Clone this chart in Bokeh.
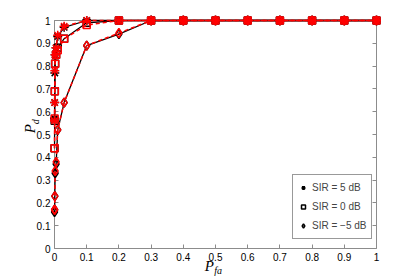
import math
from bokeh.plotting import figure
from bokeh.models import (Range1d, FixedTicker, LinearAxis, Legend, LegendItem)
from bokeh.core.properties import value
from bokeh.embed import file_html
from bokeh.resources import INLINE

# ---- data ----
pfa = [0.0001, 0.0005, 0.001, 0.002, 0.005, 0.01, 0.03, 0.1, 0.2, 0.3, 0.4, 0.5, 0.6, 0.7, 0.8, 0.9, 1.0]

pd_5_theory = [0.57, 0.64, 0.77, 0.85, 0.88, 0.93, 0.97, 1.0, 1.0, 1.0, 1.0, 1.0, 1.0, 1.0, 1.0, 1.0, 1.0]
pd_5_sim    = [0.56, 0.64, 0.78, 0.85, 0.88, 0.935, 0.975, 1.0, 1.0, 1.0, 1.0, 1.0, 1.0, 1.0, 1.0, 1.0, 1.0]

pd_0_theory = [0.44, 0.56, 0.69, 0.81, 0.85, 0.88, 0.92, 0.99, 1.0, 1.0, 1.0, 1.0, 1.0, 1.0, 1.0, 1.0, 1.0]
pd_0_sim    = [0.44, 0.57, 0.69, 0.81, 0.85, 0.87, 0.92, 0.98, 1.0, 1.0, 1.0, 1.0, 1.0, 1.0, 1.0, 1.0, 1.0]

pd_m5_theory = [0.16, 0.17, 0.23, 0.33, 0.37, 0.52, 0.64, 0.89, 0.94, 1.0, 1.0, 1.0, 1.0, 1.0, 1.0, 1.0, 1.0]
pd_m5_sim    = [0.17, 0.17, 0.23, 0.34, 0.38, 0.52, 0.64, 0.89, 0.945, 1.0, 1.0, 1.0, 1.0, 1.0, 1.0, 1.0, 1.0]

series_labels = ["SIR = 5 dB", "SIR = 0 dB", "SIR = \u22125 dB"]
ticks = [0, 0.1, 0.2, 0.3, 0.4, 0.5, 0.6, 0.7, 0.8, 0.9, 1.0]
tick_labels = ["0", "0.1", "0.2", "0.3", "0.4", "0.5", "0.6", "0.7", "0.8", "0.9", "1"]

# ---- figure ----
p = figure(width=410, height=276, x_range=Range1d(0, 1), y_range=Range1d(0, 1),
           output_backend="svg", toolbar_location=None,
           min_border_left=54, min_border_right=34, min_border_top=20, min_border_bottom=28,
           x_axis_location=None, y_axis_location=None)
p.grid.visible = False
p.outline_line_color = "#8c8c8c"
p.outline_line_width = 1
p.background_fill_color = "white"
p.border_fill_color = "white"

def make_axis(show_labels):
    ax = LinearAxis(ticker=FixedTicker(ticks=ticks))
    ax.axis_line_color = None
    ax.major_tick_in = 4
    ax.major_tick_out = 0
    ax.major_tick_line_color = "#8c8c8c"
    ax.minor_tick_line_color = None
    if show_labels:
        ax.major_label_overrides = {t: l for t, l in zip(ticks, tick_labels)}
    else:
        ax.major_label_overrides = {t: "" for t in ticks}
    ax.major_label_text_font = "Liberation Sans"
    ax.major_label_text_font_size = "10px"
    ax.major_label_text_color = "black"
    ax.major_label_standoff = 4 if show_labels else 0
    return ax

p.add_layout(make_axis(True), "below")
p.add_layout(make_axis(True), "left")
p.add_layout(make_axis(False), "above")
p.add_layout(make_axis(False), "right")

markers = ["asterisk", "square", "diamond"]
sizes = [9, 7, 9]
theory = [pd_5_theory, pd_0_theory, pd_m5_theory]
sim = [pd_5_sim, pd_0_sim, pd_m5_sim]

legend_renderers = []
for mk, sz, th in zip(markers, sizes, theory):
    p.line(pfa, th, line_color="black", line_width=1.3, level="overlay")
    r = p.scatter(pfa, th, marker=mk, size=sz, line_color="black", fill_color=None,
                  line_width=1.5, level="overlay")
    legend_renderers.append(r)
for mk, sz, sm in zip(markers, sizes, sim):
    p.line(pfa, sm, line_color="red", line_width=1.5, line_dash="4 3", level="overlay")
    p.scatter(pfa, sm, marker=mk, size=sz, line_color="red", fill_color=None,
              line_width=1.5, level="overlay")

legend = Legend(items=[LegendItem(label=l, renderers=[r]) for l, r in zip(series_labels, legend_renderers)],
                location=(238, 9))
legend.label_text_font = "Liberation Sans"
legend.label_text_font_size = "10px"
legend.border_line_color = "#333333"
legend.border_line_width = 1
legend.background_fill_color = "white"
legend.background_fill_alpha = 1
legend.padding = 5
legend.spacing = 4
legend.glyph_width = 10
legend.glyph_height = 15
legend.label_height = 15
legend.label_standoff = 4
legend.margin = 0
p.add_layout(legend, "center")

# axis labels (italic P with subscript), drawn as unclipped text glyphs
serif = value("Liberation Serif")
p.text(x=[0.481], y=[-0.075], text=["P"], text_font=serif, text_font_style="italic",
       text_font_size="15px", text_align="center", text_baseline="middle", level="overlay")
p.text(x=[0.508], y=[-0.095], text=["fa"], text_font=serif, text_font_style="italic",
       text_font_size="10px", text_align="center", text_baseline="middle", level="overlay")
p.text(x=[-0.075], y=[0.526], text=["P"], text_font=serif, text_font_style="italic",
       text_font_size="15px", text_align="center", text_baseline="middle", angle=math.pi / 2,
       level="overlay")
p.text(x=[-0.058], y=[0.556], text=["d"], text_font=serif, text_font_style="italic",
       text_font_size="10px", text_align="center", text_baseline="middle", angle=math.pi / 2,
       level="overlay")

open("out.html", "w").write(file_html(p, INLINE))
